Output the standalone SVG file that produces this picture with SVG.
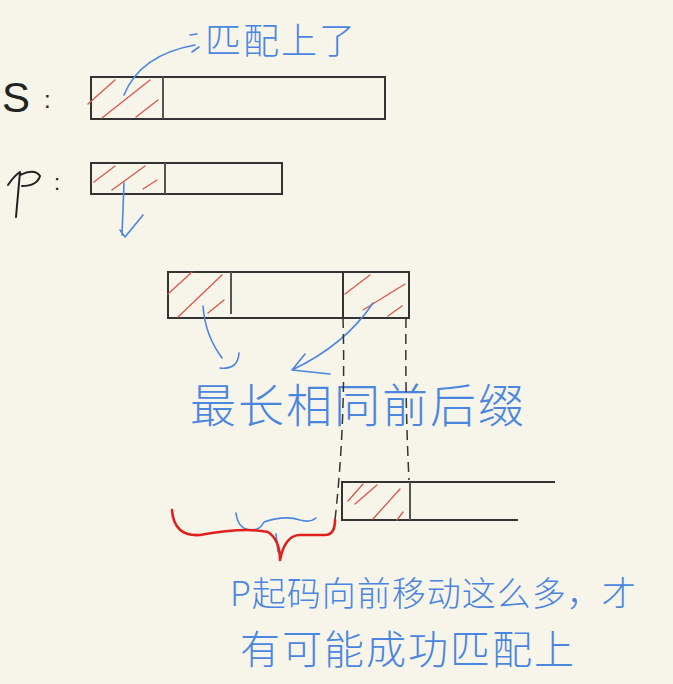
<svg xmlns="http://www.w3.org/2000/svg" width="673" height="684" viewBox="0 0 673 684">
<style>
.box{fill:none;stroke:#333;stroke-width:2}
.div{stroke:#555;stroke-width:2}
.hatch{stroke:#d9574a;stroke-width:1.3;fill:none;stroke-linecap:round}
.blue{stroke:#4a86e0;stroke-width:1.6;fill:none;stroke-linecap:round;stroke-linejoin:round}
.dash{stroke:#333;stroke-width:1.5;stroke-dasharray:10 6;fill:none}
.hw{font-family:"Noto Sans CJK SC","Noto Sans",sans-serif;fill:#4a86e0;font-weight:300}
.lbl{font-family:"Liberation Sans",sans-serif;fill:#222;font-weight:300}
</style>
<rect width="673" height="684" fill="#f7f4e9"/>
<g id="S-label"><text class="lbl" x="2" y="112" font-size="42">S</text><text class="lbl" x="44" y="108" font-size="24">:</text></g>
<g id="S">
<rect class="box" x="91" y="77" width="294" height="42"/>
<line class="div" x1="163" y1="77" x2="163" y2="119"/>
<path class="hatch" d="M88 104 L115 80 M102 118 L150 80 M136 117 L158 100"/>
</g>
<g id="P-label"><path d="M8 185 Q14 176 20 172 M20 172 L16 217 M20 175 Q35 168 40 176 Q37 186 22 186" stroke="#222" stroke-width="2" fill="none" stroke-linecap="round"/><text class="lbl" x="54" y="190" font-size="22">:</text></g>
<g id="P">
<rect class="box" x="91" y="163" width="191" height="31"/>
<line class="div" x1="165" y1="163" x2="165" y2="194"/>
<path class="hatch" d="M94 182 L115 166 M112 190 L145 166 M143 189 L157 180"/>
</g>
<g id="mid">
<rect class="box" x="168" y="272" width="241" height="46"/>
<line class="div" x1="231" y1="272" x2="231" y2="314"/>
<line class="box" x1="343" y1="272" x2="343" y2="318"/>
<path class="hatch" d="M168 294 L192 272 M178 317 L222 275 M208 313 L224 300 M345 294 L370 275 M363 310 L405 284 M388 316 L402 306"/>
</g>
<g id="bottom">
<path class="box" d="M555 482 L342 482 L342 520 L518 520"/>
<line class="div" x1="410" y1="482" x2="410" y2="520"/>
<path class="hatch" d="M348 501 L363 484 M355 504 L377 485 M373 519 L400 489 M397 520 L403 512"/>
</g>
<g id="labels">
<text class="hw" x="205" y="54" font-size="36" letter-spacing="2">匹配上了</text>
<text class="hw" x="190" y="422" font-size="46" letter-spacing="2">最长相同前后缀</text>
<text class="hw" x="230" y="606" font-size="34" letter-spacing="1">P起码向前移动这么多，才</text>
<text class="hw" x="240" y="664" font-size="40" letter-spacing="2">有可能成功匹配上</text>
</g>
<g id="connectors">
<path class="blue" d="M124 95 Q140 55 195 45"/>
<path class="blue" d="M190 35 L197 34 M192 52 L199 47"/>
<path class="blue" d="M124 183 L122 235 M120 230 L125 237 L143 215"/>
<path class="blue" d="M203 306 Q205 335 222 358 M239 353 Q238 370 220 368"/>
<path class="blue" d="M373 303 Q345 345 292 370 M292 370 L305 354 M292 370 L330 374"/>
<path class="blue" d="M236 513 Q238 530 252 530 Q260 530 264 522 Q285 515 300 520 Q310 523 316 518"/>
<path class="blue" d="M276 534 L278 552"/>
<path class="dash" d="M343 318 Q346 420 335 520"/>
<path class="dash" d="M406 318 Q405 400 409 480"/>
<path d="M172 510 Q174 537 200 535 Q245 527 268 532 Q280 540 280 560 Q285 535 300 535 L325 535 Q335 535 335 520" stroke="#e0201c" stroke-width="2.6" fill="none" stroke-linecap="round" stroke-linejoin="round"/>
</g>
</svg>
